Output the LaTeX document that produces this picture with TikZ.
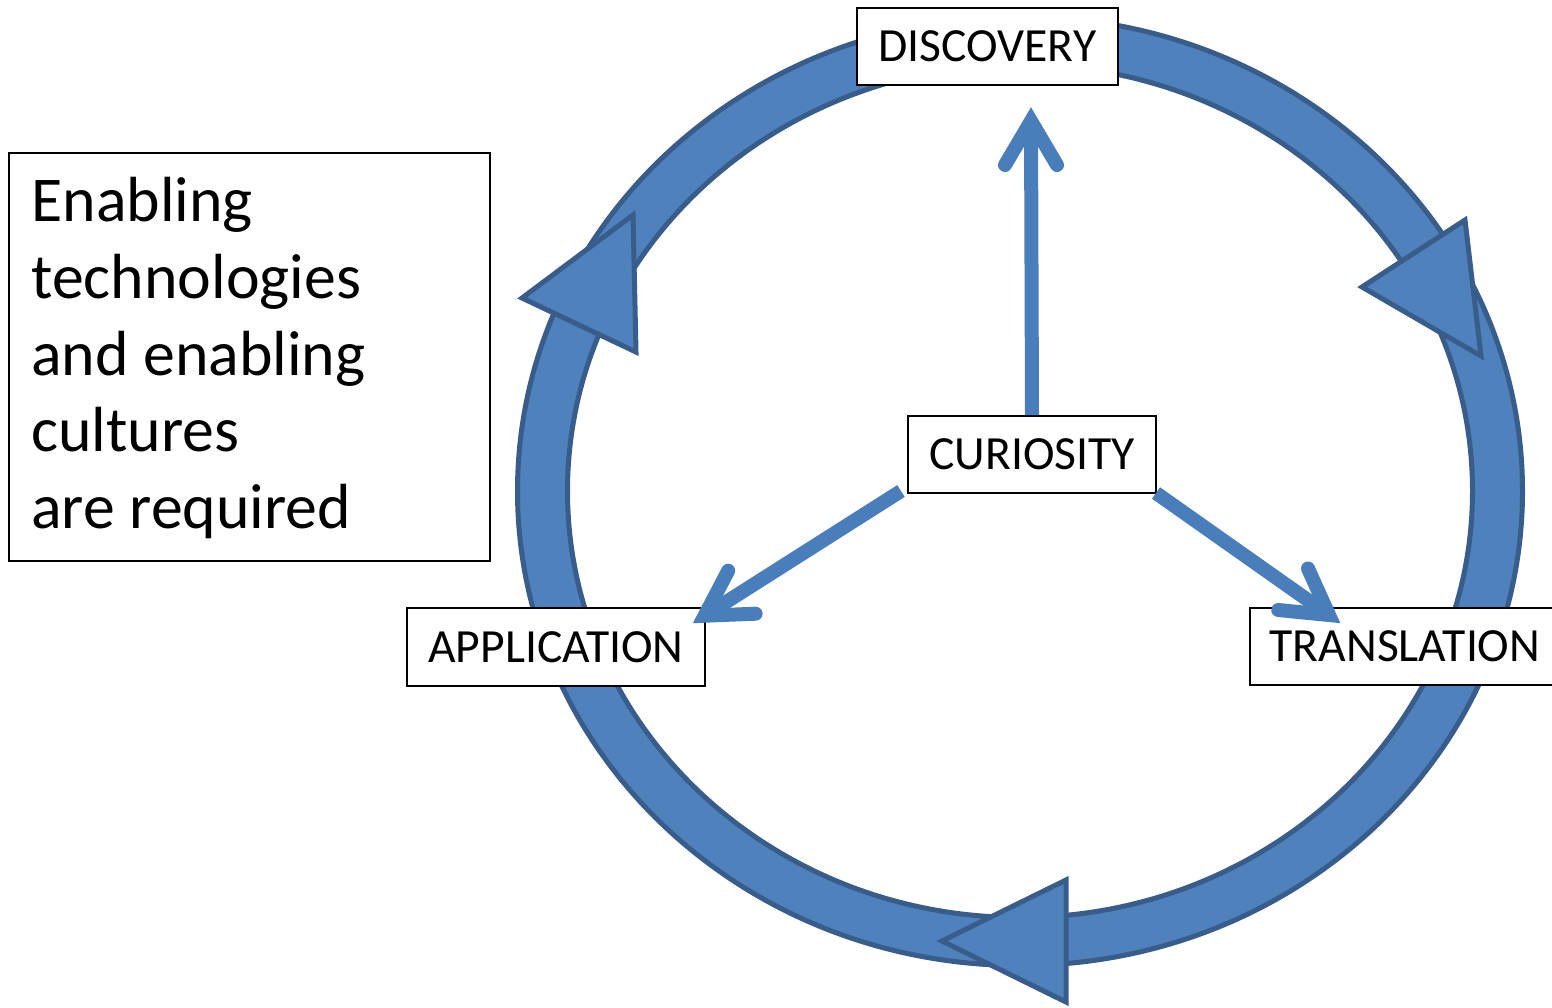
\documentclass[tikz,border=0pt]{standalone}
\usepackage{fontspec}
\setmainfont{Carlito}
\usetikzlibrary{calc}
\definecolor{ringfill}{HTML}{4F81BD}
\definecolor{ringline}{HTML}{385D8A}
\definecolor{arrowc}{HTML}{4A7EBB}
\begin{document}
\begin{tikzpicture}[x=0.5pt,y=-0.5pt,
  lbl/.style={draw=black, line width=1pt, fill=white, inner sep=0pt, font=\fontsize{23.8}{28}\selectfont},
  ringstyle/.style={fill=ringfill, draw=ringline, line width=2.5pt, even odd rule},
  headstyle/.style={fill=ringfill, draw=ringline, line width=2.5pt, line join=miter},
  shaft/.style={draw=arrowc, line width=7pt},
  barb/.style={draw=arrowc, line width=7pt, line cap=round, line join=miter, miter limit=10}]
\useasboundingbox (0,0) rectangle (1552,1007);
\fill[white] (0,0) rectangle (1552,1007);
% ring band
\path[ringstyle] (1020,491) ellipse [x radius=251.25pt, y radius=237.25pt]
                 (1020,491) ellipse [x radius=226.25pt, y radius=213.25pt];
% arrow heads on the ring
\path[headstyle] (522,298) -- (633,215) -- (636,352) -- cycle;
\path[headstyle] (1362,287) -- (1465,220) -- (1481,356) -- cycle;
\path[headstyle] (942,941) -- (1066,880) -- (1066,1002) -- cycle;
% labels
\node[lbl, minimum width=130.5pt, minimum height=38.5pt] (disc) at (987.5,46.5) {DISCOVERY};
\node[lbl, minimum width=124pt, minimum height=38.5pt] (cur) at (1032,454.5) {CURIOSITY};
\node[lbl, minimum width=149pt, minimum height=39pt] (app) at (556,647) {APPLICATION};
\node[lbl, minimum width=155pt, minimum height=38.5pt] (trans) at (1405,646.5) {TRANSLATION};
% note box
\node[draw=black, line width=1pt, minimum width=240.5pt, minimum height=204pt, inner sep=0pt] (note) at (249.5,357) {};
\node[anchor=base west, align=left, inner sep=0pt, font=\fontsize{31.9}{38.3}\selectfont] (notetext) at (31,528.3)
  {Enabling\\technologies\\and enabling\\cultures\\are required};
% arrows from curiosity
\coordinate (tU) at (1031,121);
\coordinate (tL) at (704.6,615.7);
\coordinate (tR) at (1329,615);
\draw[shaft] (cur.north) -- (tU);
\draw[barb] ($(tU)+(-26,44)$) -- (tU) -- ($(tU)+(26,44)$);
\draw[shaft] ($(cur.south west)+(-6,-3)$) -- (tL);
\draw[barb] ($(tL)+(23.6,-45)$) -- (tL) -- ($(tL)+(51,-2)$);
\draw[shaft] ($(cur.south east)+(-1,-1)$) -- (tR);
\draw[barb] ($(tR)+(-21,-46.5)$) -- (tR) -- ($(tR)+(-50.8,-5)$);
\end{tikzpicture}
\end{document}
